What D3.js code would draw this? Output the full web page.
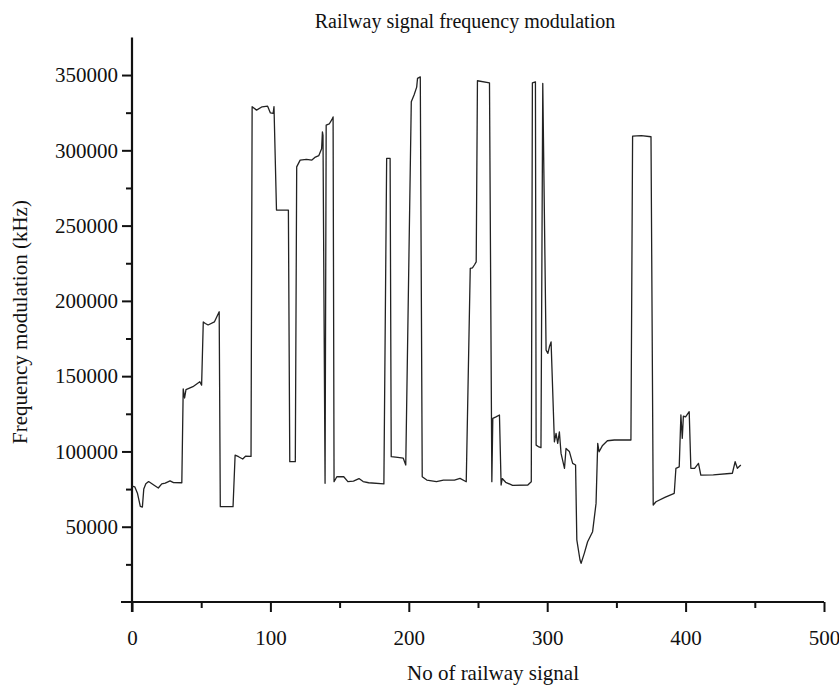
<!DOCTYPE html>
<html><head><meta charset="utf-8">
<script src="https://cdn.jsdelivr.net/npm/d3@7/dist/d3.min.js"></script>
<style>body{margin:0;background:#fff}text{font-family:"Liberation Serif","Times New Roman",serif;fill:#111}</style>
</head><body><svg id="chart" width="839" height="686"></svg>
<script>
const titleText = "Railway signal frequency modulation";
const xLabel = "No of railway signal";
const yLabel = "Frequency modulation (kHz)";
const xMajorTicks = [0, 100, 200, 300, 400, 500];
const xMinorTicks = [50, 150, 250, 350, 450];
const yMajorTicks = [50000, 100000, 150000, 200000, 250000, 300000, 350000];
const yMinorTicks = [25000, 75000, 125000, 175000, 225000, 275000, 325000];

const signalNo = [0,2,4,6,7.5,8.5,10,12,16,19,21.5,24,27.5,30,36,37,38,39,44,49,50.3,51.5,53,55,59.5,63,63.8,73,74.5,77,80,82,86,86.8,90,94,98,100,102,102.6,104.4,113,114,118,119,121.5,126,130,132.5,135,137,137.6,138,139.5,140.3,142.5,144.5,145.3,146,148,153,156,160,164,167,171,182,184,186.5,187.3,192,196,197.8,201.8,203.8,205.7,206.3,208.3,209.7,213,220,225,233,237,241.5,244.4,246,247.5,248.7,249.6,258.3,260,260.7,263,265.5,266.7,267.5,270,275,286,288.5,289.3,291.5,292,294,295.5,296.8,299.2,300.5,301.6,302.8,305.2,306.4,307.6,308.8,310,312.5,313.6,316,318.4,320.5,321.4,323.7,324.5,326.8,329.2,332.8,335.3,336.5,337.5,340,343.5,348.5,355,360.5,361.7,368,375,376.6,378.6,385,391.8,393,395.4,396.6,397.6,398.4,400,402.6,403.8,406.5,409.3,411,420,433.8,435.8,437.4,439.9];
const freqKHz = [77000,76500,72000,63500,63000,75000,78500,80000,77500,75700,78500,79000,80500,79300,79200,141500,135500,141000,143000,146300,144000,186000,185000,184000,186000,192800,63300,63300,97500,96500,95000,96800,96700,329000,326700,328900,329300,324800,324500,329000,260300,260300,93200,93200,289000,293500,294000,293500,295500,296500,301000,312300,310000,78800,316700,317500,320500,322200,79900,83200,83200,80000,80300,82000,80000,79200,78400,294600,294600,96500,96000,95500,91000,332200,336700,342000,347800,348800,83200,81000,79900,81000,81000,82100,79900,221600,222000,224000,225900,346200,344800,79900,122000,123000,124200,77700,82000,79500,77500,77700,79900,344800,345500,104200,103000,102500,344400,167300,165100,169500,172800,106400,112000,105400,113000,98700,88800,102000,100000,92100,91000,41200,27900,25700,32300,40000,46700,65500,105400,99800,104000,107100,107600,107600,107600,309400,309700,309000,64400,66600,69500,72200,88800,89800,124200,108700,123500,123000,126400,88800,88800,92100,84300,84500,85500,93200,88800,91000];

const svg = d3.select("#chart");
const x = d3.scaleLinear().domain([0, 500]).range([132, 824]);
const y = d3.scaleLinear().domain([0, 375000]).range([602, 37.4]);

// x axis
const gx = svg.append("g").attr("transform", `translate(0,${y(0)})`);
gx.call(d3.axisBottom(x).tickValues(xMajorTicks).tickSize(10).tickSizeOuter(0).tickFormat(d3.format("d")));
gx.select(".domain").remove();
gx.selectAll(".tick line").attr("stroke", "#111").attr("stroke-width", 2);
gx.selectAll(".tick text").attr("y", 0).attr("dy", "43px").style("font-size", "21px").attr("fill", "#111");
const gxm = svg.append("g").attr("transform", `translate(0,${y(0)})`);
gxm.call(d3.axisBottom(x).tickValues(xMinorTicks).tickSize(6).tickFormat(""));
gxm.select(".domain").remove();
gxm.selectAll(".tick line").attr("stroke", "#111").attr("stroke-width", 2);
svg.append("line").attr("x1", x.range()[0] - 11).attr("x2", x.range()[1]).attr("y1", y(0)).attr("y2", y(0)).attr("stroke", "#111").attr("stroke-width", 2.2);

// y axis
const gy = svg.append("g").attr("transform", `translate(${x(0)},0)`);
gy.call(d3.axisLeft(y).tickValues(yMajorTicks).tickSize(10).tickSizeOuter(0).tickFormat(d3.format("d")));
gy.select(".domain").remove();
gy.selectAll(".tick line").attr("stroke", "#111").attr("stroke-width", 2);
gy.selectAll(".tick text").attr("x", -14).style("font-size", "21px").attr("fill", "#111");
const gym = svg.append("g").attr("transform", `translate(${x(0)},0)`);
gym.call(d3.axisLeft(y).tickValues(yMinorTicks).tickSize(6).tickFormat(""));
gym.select(".domain").remove();
gym.selectAll(".tick line").attr("stroke", "#111").attr("stroke-width", 2);
svg.append("line").attr("x1", x(0)).attr("x2", x(0)).attr("y1", y.range()[1]).attr("y2", y(0) + 10).attr("stroke", "#111").attr("stroke-width", 2.2);

// line
const pts = signalNo.map((s, i) => [s, freqKHz[i]]);
svg.append("path").datum(pts)
  .attr("fill", "none").attr("stroke", "#222").attr("stroke-width", 1.3).attr("stroke-linejoin", "round")
  .attr("d", d3.line().x(d => x(d[0])).y(d => y(d[1])));

// labels
svg.append("text").attr("x", 465).attr("y", 28).attr("text-anchor", "middle").style("font-size", "20px").text(titleText);
svg.append("text").attr("x", 493).attr("y", 680).attr("text-anchor", "middle").style("font-size", "21px").text(xLabel);
svg.append("text").attr("transform", "translate(27,322) rotate(-90)").attr("text-anchor", "middle").style("font-size", "21px").text(yLabel);
</script></body></html>
